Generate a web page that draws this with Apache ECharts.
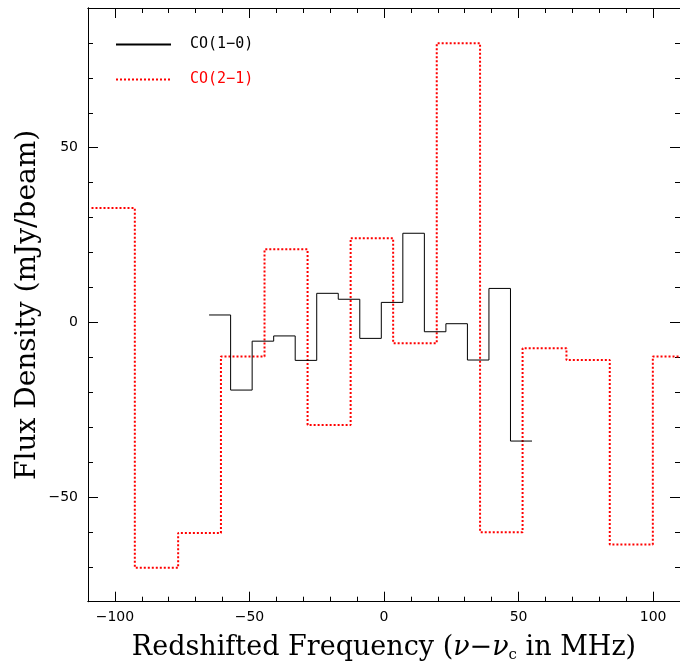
<!DOCTYPE html>
<html><head><meta charset="utf-8">
<script src="https://cdn.jsdelivr.net/npm/echarts@6/dist/echarts.min.js"></script>
<style>html,body{margin:0;padding:0;background:#fff}#c{width:680px;height:668px}</style>
</head><body><div id="c"></div>
<script>
// CO(1-0): bin edges (MHz) and flux per bin (mJy/beam)
const co10Edges = [-65,-57,-49,-41,-33,-25,-17,-9,-1,7,15,23,31,39,47,55];
const co10Flux  = [2.1,-19.4,-5.4,-3.9,-10.9,8.3,6.6,-4.6,5.7,25.5,-2.7,-0.4,-10.8,9.7,-34.0];
// CO(2-1): bin edges (MHz) and flux per bin (mJy/beam)
const co21Edges = [-108.7,-92.6,-76.5,-60.6,-44.4,-28.4,-12.4,3.4,19.6,35.7,51.5,67.8,83.9,99.9,116];
const co21Flux  = [32.7,-70.3,-60.3,-9.8,20.9,-29.4,24.1,-6.0,79.9,-60.1,-7.4,-10.8,-63.6,-9.8];
// ticks
const xMajorTicks = [-100,-50,0,50,100];
const xMinorTicks = [-110,-90,-80,-70,-60,-40,-30,-20,-10,10,20,30,40,60,70,80,90,110];
const yMajorTicks = [-50,0,50];
const yMinorTicks = [-80,-70,-60,-40,-30,-20,-10,10,20,30,40,60,70,80,90];
const seriesNames = ['CO(1\u22120)','CO(2\u22121)'];

function stepData(edges, vals){
  return edges.map((e,i)=>[e, vals[Math.min(i, vals.length-1)]]);
}
const minusFmt = v => v < 0 ? '\u2212' + (-v) : String(v);

const chart = echarts.init(document.getElementById('c'), null, {renderer:'canvas'});
const lineCol = '#000';
function xAx(pos, ticks, len, labels){
  return {type:'value', position:pos, min:-110, max:110,
    axisLine:{show:true, onZero:false, lineStyle:{color:lineCol,width:1}},
    axisTick:{show:true, inside:true, length:len, customValues:ticks, lineStyle:{color:lineCol,width:1}},
    axisLabel: labels ? {show:true, customValues:xMajorTicks, formatter:minusFmt, margin:9,
      fontFamily:'DejaVu Sans', fontSize:14, color:'#000'} : {show:false},
    splitLine:{show:false}};
}
function yAx(pos, ticks, len, labels){
  return {type:'value', position:pos, min:-80, max:90,
    axisLine:{show:true, onZero:false, lineStyle:{color:lineCol,width:1}},
    axisTick:{show:true, inside:true, length:len, customValues:ticks, lineStyle:{color:lineCol,width:1}},
    axisLabel: labels ? {show:true, customValues:yMajorTicks, formatter:minusFmt, margin:10,
      fontFamily:'DejaVu Sans', fontSize:14, color:'#000'} : {show:false},
    splitLine:{show:false}};
}
const xa0 = xAx('bottom', xMajorTicks, 10, true);
xa0.name = 'Redshifted Frequency ({i|\u03bd}\u2212{i|\u03bd}{s|c} in MHz)';
xa0.nameLocation = 'middle';
xa0.nameGap = 32;
xa0.nameMoveOverlap = false;
xa0.nameTextStyle = {fontFamily:'DejaVu Serif', fontSize:27, color:'#000',
  rich:{i:{fontFamily:'DejaVu Serif', fontSize:27, fontStyle:'italic', color:'#000'},
        s:{fontFamily:'DejaVu Serif', fontSize:15, color:'#000', padding:[14,0,0,0]}}};
const ya0 = yAx('left', yMajorTicks, 10, true);
ya0.name = 'Flux Density (mJy/beam)';
ya0.nameLocation = 'middle';
ya0.nameGap = 46;
ya0.nameMoveOverlap = false;
ya0.nameTextStyle = {fontFamily:'DejaVu Serif', fontSize:28, color:'#000'};

chart.setOption({
  animation:false,
  backgroundColor:'#fff',
  grid:{left:88, top:8, right:-3.5, bottom:66.3, containLabel:false},
  legend:{orient:'vertical', left:115, top:37, padding:0, itemWidth:55, itemHeight:14, itemGap:20,
    itemStyle:{opacity:0},
    data:[{name:seriesNames[0], textStyle:{color:'#000'}},{name:seriesNames[1], textStyle:{color:'#ff0000'}}],
    textStyle:{fontFamily:'DejaVu Sans Mono', fontSize:15, padding:[0,0,0,14]}},
  xAxis:[xa0, xAx('bottom', xMinorTicks, 5, false), xAx('top', xMajorTicks, 10, false), xAx('top', xMinorTicks, 5, false)],
  yAxis:[ya0, yAx('left', yMinorTicks, 5, false), yAx('right', yMajorTicks, 10, false), yAx('right', yMinorTicks, 5, false)],
  series:[
    {name:seriesNames[1], type:'line', step:'end', data:stepData(co21Edges, co21Flux), symbol:'none',
      clip:true, lineStyle:{color:'#ff0000', width:2, type:[2,2]}, itemStyle:{color:'#ff0000', opacity:0}},
    {name:seriesNames[0], type:'line', step:'end', data:stepData(co10Edges, co10Flux), symbol:'none',
      clip:true, lineStyle:{color:'#000', width:1, type:'solid'}, itemStyle:{color:'#000', opacity:0}}
  ]
});
</script></body></html>
